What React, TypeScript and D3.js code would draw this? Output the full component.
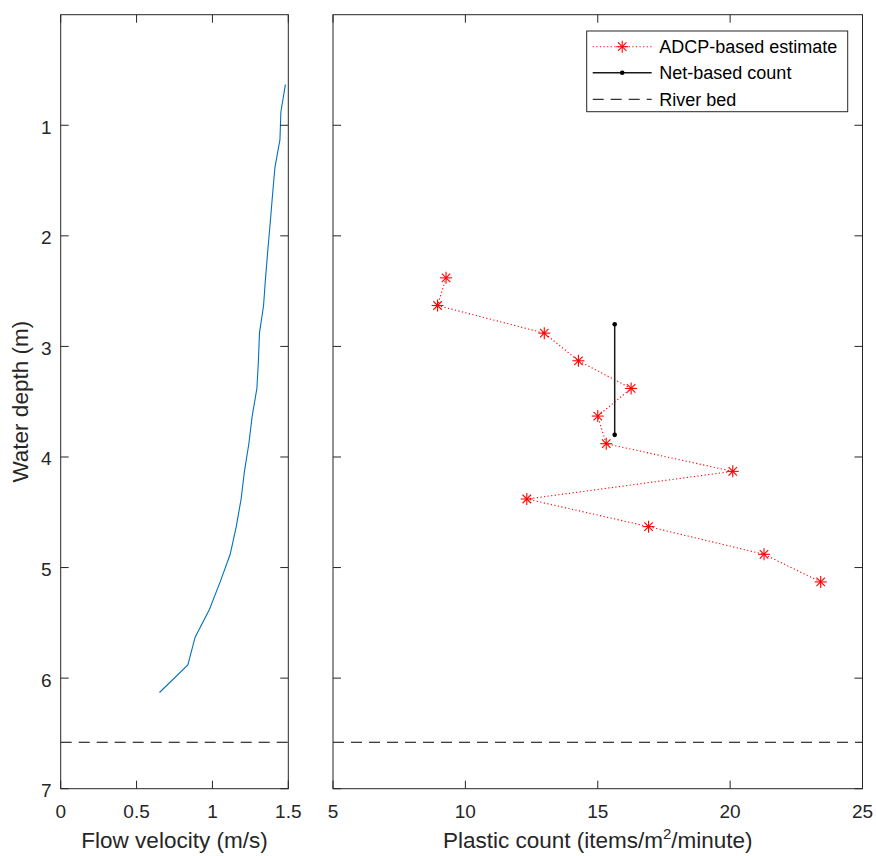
import React from "react";
import * as d3 from "d3";

// ---- Data ----
const velocityDepths = [0.63, 0.88, 1.13, 1.38, 1.63, 1.88, 2.13, 2.38, 2.63, 2.88, 3.13, 3.38, 3.63, 3.88, 4.13, 4.38, 4.63, 4.88, 5.13, 5.38, 5.63, 5.88, 6.13];
const velocityValues = [1.481, 1.451, 1.445, 1.412, 1.396, 1.381, 1.365, 1.35, 1.337, 1.31, 1.303, 1.293, 1.262, 1.24, 1.211, 1.189, 1.157, 1.117, 1.051, 0.98, 0.886, 0.838, 0.651];

const adcpDepths = [2.38, 2.63, 2.88, 3.13, 3.38, 3.63, 3.88, 4.13, 4.38, 4.63, 4.88, 5.13];
const adcpValues = [9.27, 8.95, 12.98, 14.27, 16.26, 15.0, 15.32, 20.1, 12.32, 16.92, 21.28, 23.42];

const netDepths = [2.8, 3.8];
const netValues = [15.64, 15.64];

const riverBedDepth = 6.58;

const depthTicks = [1, 2, 3, 4, 5, 6, 7];
const velocityTicks = [0, 0.5, 1, 1.5];
const velocityTickLabels = ["0", "0.5", "1", "1.5"];
const plasticTicks = [5, 10, 15, 20, 25];

const legendLabels = ["ADCP-based estimate", "Net-based count", "River bed"];

// ---- Layout ----
const W = 876;
const H = 856;
const TOP = 14.7;
const BOTTOM = 788.7;
const AX = "#262626";
const FONT = "'Liberation Sans', Arial, Helvetica, sans-serif";
const TICK = 8;

const yScale = d3.scaleLinear().domain([0, 7]).range([TOP, BOTTOM]);
const xVel = d3.scaleLinear().domain([0, 1.5]).range([60.7, 288.3]);
const xPl = d3.scaleLinear().domain([5, 25]).range([333, 862.5]);

function Star({ x, y, r = 6 }: { x: number; y: number; r?: number }) {
  const d = r * 0.7071;
  return (
    <g stroke="#ff0000" strokeWidth={1.1}>
      <line x1={x - r} y1={y} x2={x + r} y2={y} />
      <line x1={x} y1={y - r} x2={x} y2={y + r} />
      <line x1={x - d} y1={y - d} x2={x + d} y2={y + d} />
      <line x1={x - d} y1={y + d} x2={x + d} y2={y - d} />
    </g>
  );
}

function Frame({ x, ticksX, labelsX, showYLabels }: { x: d3.ScaleLinear<number, number>; ticksX: number[]; labelsX: string[]; showYLabels: boolean }) {
  const [x0, x1] = x.range();
  return (
    <g>
      <rect x={x0} y={TOP} width={x1 - x0} height={BOTTOM - TOP} fill="none" stroke={AX} strokeWidth={1} />
      {ticksX.map((t, i) => (
        <g key={"xt" + i}>
          <line x1={x(t)} x2={x(t)} y1={BOTTOM} y2={BOTTOM - TICK} stroke={AX} />
          <line x1={x(t)} x2={x(t)} y1={TOP} y2={TOP + TICK} stroke={AX} />
          <text x={x(t)} y={818.3} textAnchor="middle" fontSize={19} fill={AX} fontFamily={FONT}>
            {labelsX[i]}
          </text>
        </g>
      ))}
      {depthTicks.map((t) => (
        <g key={"yt" + t}>
          <line x1={x0} x2={x0 + TICK} y1={yScale(t)} y2={yScale(t)} stroke={AX} />
          <line x1={x1} x2={x1 - TICK} y1={yScale(t)} y2={yScale(t)} stroke={AX} />
          {showYLabels && (
            <text x={x0 - 9} y={yScale(t) + 8.5} textAnchor="end" fontSize={19} fill={AX} fontFamily={FONT}>
              {t}
            </text>
          )}
        </g>
      ))}
    </g>
  );
}

export default function App() {
  const velLine = d3
    .line<number>()
    .x((v) => xVel(v))
    .y((_, i) => yScale(velocityDepths[i]));
  const adcpLine = d3
    .line<number>()
    .x((v) => xPl(v))
    .y((_, i) => yScale(adcpDepths[i]));
  const netLine = d3
    .line<number>()
    .x((v) => xPl(v))
    .y((_, i) => yScale(netDepths[i]));

  const lgX0 = 586.7;
  const lgY0 = 31;
  const rowY = [46.7, 72.7, 99.3];
  const segA = 592.7;
  const segB = 651.7;
  const segMid = (segA + segB) / 2;

  return (
    <svg width={W} height={H} style={{ position: "absolute", left: 0, top: 0, background: "#fff" }} fontFamily={FONT}>
      <rect x={0} y={0} width={W} height={H} fill="#fff" />

      {/* Left panel */}
      <path d={velLine(velocityValues) || ""} fill="none" stroke="#0072BD" strokeWidth={1.1} />
      <line x1={xVel(0)} x2={xVel(1.5)} y1={yScale(riverBedDepth)} y2={yScale(riverBedDepth)} stroke="#000" strokeWidth={1} strokeDasharray="11,7" />
      <Frame x={xVel} ticksX={velocityTicks} labelsX={velocityTickLabels} showYLabels={true} />
      <text x={xVel(0.75)} y={848.3} textAnchor="middle" fontSize={22.5} fill={AX}>
        Flow velocity (m/s)
      </text>
      <text transform={`translate(27.5, ${(TOP + BOTTOM) / 2}) rotate(-90)`} textAnchor="middle" fontSize={22.5} fill={AX}>
        Water depth (m)
      </text>

      {/* Right panel */}
      <line x1={xPl(5)} x2={xPl(25)} y1={yScale(riverBedDepth)} y2={yScale(riverBedDepth)} stroke="#000" strokeWidth={1} strokeDasharray="11,7" />
      <path d={adcpLine(adcpValues) || ""} fill="none" stroke="#ff0000" strokeWidth={1.1} strokeDasharray="1.2,2.4" />
      {adcpValues.map((v, i) => (
        <Star key={i} x={xPl(v)} y={yScale(adcpDepths[i])} />
      ))}
      <path d={netLine(netValues) || ""} fill="none" stroke="#1a1a1a" strokeWidth={1.5} />
      {netValues.map((v, i) => (
        <circle key={i} cx={xPl(v)} cy={yScale(netDepths[i])} r={2.3} fill="#000" />
      ))}
      <Frame x={xPl} ticksX={plasticTicks} labelsX={plasticTicks.map(String)} showYLabels={false} />
      <text x={(xPl(5) + xPl(25)) / 2} y={848.3} textAnchor="middle" fontSize={22.5} fill={AX}>
        Plastic count (items/m
        <tspan fontSize={15} dy={-9}>2</tspan>
        <tspan dy={9}>/minute)</tspan>
      </text>

      {/* Legend */}
      <rect x={lgX0} y={lgY0} width={847.7 - lgX0} height={111.7 - lgY0} fill="#fff" stroke={AX} strokeWidth={1} />
      <line x1={segA} x2={segB} y1={rowY[0]} y2={rowY[0]} stroke="#ff0000" strokeWidth={1.1} strokeDasharray="1.2,2.4" />
      <Star x={segMid} y={rowY[0]} />
      <line x1={segA} x2={segB} y1={rowY[1]} y2={rowY[1]} stroke="#1a1a1a" strokeWidth={1.5} />
      <circle cx={segMid} cy={rowY[1]} r={2.3} fill="#000" />
      <line x1={segA} x2={segB} y1={rowY[2]} y2={rowY[2]} stroke="#000" strokeWidth={1} strokeDasharray="11,7" />
      {legendLabels.map((l, i) => (
        <text key={l} x={659.3} y={rowY[i] + 6.5} fontSize={18} fill="#000">
          {l}
        </text>
      ))}
    </svg>
  );
}
